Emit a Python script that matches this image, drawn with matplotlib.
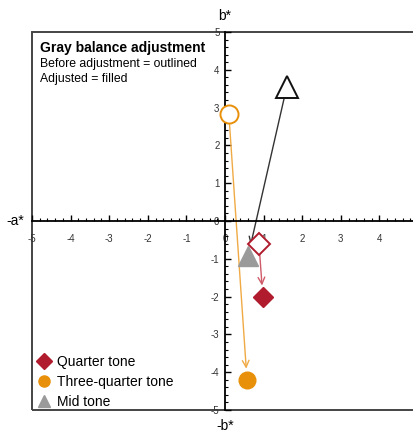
import matplotlib.pyplot as plt
from matplotlib.patches import Rectangle
from matplotlib.ticker import MultipleLocator

plt.rcParams['font.family'] = ['Liberation Sans', 'DejaVu Sans']
plt.rcParams['axes.unicode_minus'] = False

# data: (a*, b*) before and after adjustment
tones = ['Quarter tone', 'Three-quarter tone', 'Mid tone']
before_a = [0.88, 0.10, 1.60]
before_b = [-0.60, 2.82, 3.55]
after_a = [0.98, 0.57, 0.60]
after_b = [-2.00, -4.20, -0.92]
tick_vals = list(range(-5, 6))

colors = ['#b01c2e', '#e8900a', '#9a9a9a']
edge_before = ['#b01c2e', '#e8900a', '#111111']
arrow_colors = ['#cf5a68', '#f0aa45', '#333333']
markers = ['D', 'o', '^']
sizes = [11, 13, 16]

fig = plt.figure(figsize=(4.14, 4.33), dpi=100)
ax = fig.add_axes([32 / 414, 23 / 433, 386 / 414, 378 / 433])
ax.set_xlim(-5, 5)
ax.set_ylim(-5, 5)

# spines through the origin
for s in ['right', 'top']:
    ax.spines[s].set_visible(False)
ax.spines['left'].set_position('zero')
ax.spines['bottom'].set_position('zero')
ax.spines['left'].set_linewidth(1.3)
ax.spines['bottom'].set_linewidth(1.3)
ax.add_patch(Rectangle((0, 0), 1, 1, transform=ax.transAxes, fill=False,
                       edgecolor='#444444', lw=1.4, clip_on=False, zorder=0))

ax.xaxis.set_minor_locator(MultipleLocator(0.2))
ax.yaxis.set_minor_locator(MultipleLocator(0.2))
ax.tick_params(which='major', direction='in', length=4, width=1, labelsize=7,
               labelcolor='#333333')
ax.tick_params(which='minor', direction='in', length=2, width=0.8)
ax.tick_params(axis='x', pad=9)
ax.tick_params(axis='y', pad=4)
ax.set_xticks(tick_vals)
ax.set_xticklabels([str(v) if v < 5 else '' for v in tick_vals])
ax.set_yticks(tick_vals)
ax.set_yticklabels([str(v) for v in tick_vals])

# arrows from before to after
for i in range(3):
    ax.annotate('', xy=(after_a[i], after_b[i]), xytext=(before_a[i], before_b[i]),
                arrowprops=dict(arrowstyle='->', color=arrow_colors[i], lw=1,
                                shrinkA=7, shrinkB=8, mutation_scale=12),
                zorder=2)

for i in range(3):
    ax.plot(before_a[i], before_b[i], marker=markers[i], ms=sizes[i],
            mfc='white', mec=edge_before[i], mew=1.4, ls='none', zorder=3)
    ax.plot(after_a[i], after_b[i], marker=markers[i], ms=sizes[i] - 1,
            color=colors[i], ls='none', zorder=3, label=tones[i])

ax.text(0.02, 0.976, 'Gray balance adjustment', transform=ax.transAxes,
        fontsize=10, fontweight='bold', va='top')
ax.text(0.02, 0.93, 'Before adjustment = outlined\nAdjusted = filled',
        transform=ax.transAxes, fontsize=8.8, va='top', linespacing=1.28)

handles = [plt.Line2D([], [], marker=m, color=c, ls='none', ms=8) for m, c in zip(markers, colors)]
ax.legend(handles, tones, loc='lower left', frameon=False, fontsize=10,
          handletextpad=0.45, labelspacing=0.42, borderaxespad=0.0, handlelength=1.0,
          borderpad=0.1, bbox_to_anchor=(0.01, 0.0))

ax.text(0, 5.25, 'b*', ha='center', va='bottom', fontsize=10)
ax.text(0, -5.25, '-b*', ha='center', va='top', fontsize=10)
ax.text(-5.2, 0, '-a*', ha='right', va='center', fontsize=10)

fig.savefig('out.png', dpi=100)
